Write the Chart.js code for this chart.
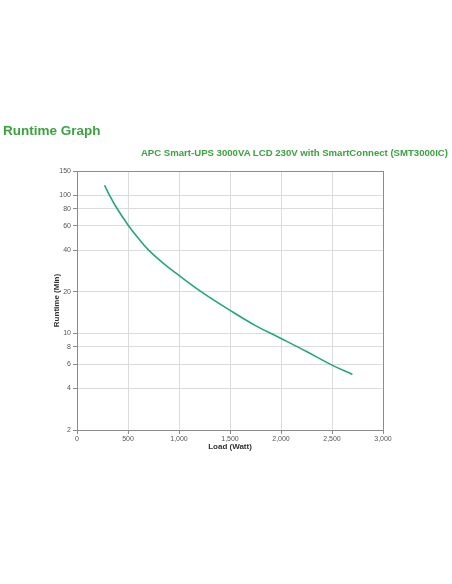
<!DOCTYPE html>
<html>
<head>
<meta charset="utf-8">
<script src="https://cdn.jsdelivr.net/npm/chart.js@4/dist/chart.umd.min.js"></script>
<style>
  html, body { margin: 0; padding: 0; background: #fff; }
  #marco { position: relative; width: 452px; height: 584px; overflow: hidden; }
  #titulo { position: absolute; left: 3px; top: 123px; font: bold 13.5px "Liberation Sans", Arial, sans-serif; color: #3ba240; }
  #subtitulo { position: absolute; right: 4px; top: 147px; font: bold 9.6px "Liberation Sans", Arial, sans-serif; color: #3ba240; white-space: nowrap; }
  #canvas-grafico { position: absolute; left: 0; top: 0; }
</style>
</head>
<body>
<div id="marco">
  <canvas id="canvas-grafico" width="452" height="584"></canvas>
  <div id="titulo">Runtime Graph</div>
  <div id="subtitulo">APC Smart-UPS 3000VA LCD 230V with SmartConnect (SMT3000IC)</div>
</div>
<script>
// Datos
const cargas = [270, 310, 376, 500, 600, 700, 850, 1000, 1220, 1500, 1750, 2000, 2250, 2500, 2700];
const minutos = [118, 103, 84, 61, 49, 40.3, 32, 26.3, 20, 14.7, 11.4, 9.2, 7.4, 5.9, 5.05];
const ticksX = [0, 500, 1000, 1500, 2000, 2500, 3000];
const ticksY = [2, 4, 6, 8, 10, 20, 40, 60, 80, 100, 150];

const colorBorde = "#8c8c8c";
const colorRejilla = "#dcdcdc";
const fuenteTicks = { family: "Liberation Sans, Arial, sans-serif", size: 7 };
const fuenteTitulo = { family: "Liberation Sans, Arial, sans-serif", size: 8, weight: "bold" };

const puntos = cargas.map((c, i) => ({ x: c, y: minutos[i] }));

const ctx = document.getElementById("canvas-grafico").getContext("2d");

new Chart(ctx, {
    type: "line",
    data: {
        datasets: [{
            data: puntos,
            borderColor: "#22a87a",
            borderWidth: 1.6,
            pointRadius: 0,
            tension: 0.4,
            fill: false
        }]
    },
    options: {
        responsive: false,
        animation: false,
        layout: { padding: { left: 52, right: 69, top: 171, bottom: 132 } },
        plugins: { legend: { display: false }, tooltip: { enabled: false } },
        scales: {
            x: {
                type: "linear",
                min: 0,
                max: 3000,
                afterBuildTicks: s => { s.ticks = ticksX.map(v => ({ value: v })); },
                afterFit: s => { s.height = 22; },
                grid: {
                    color: c => (c.tick && c.tick.value === 3000) ? colorBorde : colorRejilla,
                    tickColor: colorBorde,
                    tickLength: 4
                },
                border: { color: colorBorde, width: 1 },
                ticks: {
                    color: "#555",
                    font: fuenteTicks,
                    padding: 1,
                    maxRotation: 0,
                    callback: v => v.toLocaleString("en-US")
                },
                title: { display: true, text: "Load (Watt)", color: "#333", font: fuenteTitulo, padding: 0 }
            },
            y: {
                type: "logarithmic",
                min: 2,
                max: 150,
                afterBuildTicks: s => { s.ticks = ticksY.map(v => ({ value: v })); },
                afterFit: s => { s.width = 25; },
                grid: {
                    color: c => (c.tick && c.tick.value === 150) ? colorBorde : colorRejilla,
                    tickColor: colorBorde,
                    tickLength: 4
                },
                border: { color: colorBorde, width: 1 },
                ticks: {
                    color: "#555",
                    font: fuenteTicks,
                    padding: 2,
                    callback: v => String(v)
                },
                title: { display: true, text: "Runtime (Min)", color: "#333", font: fuenteTitulo, padding: 0 }
            }
        }
    }
});
</script>
</body>
</html>
